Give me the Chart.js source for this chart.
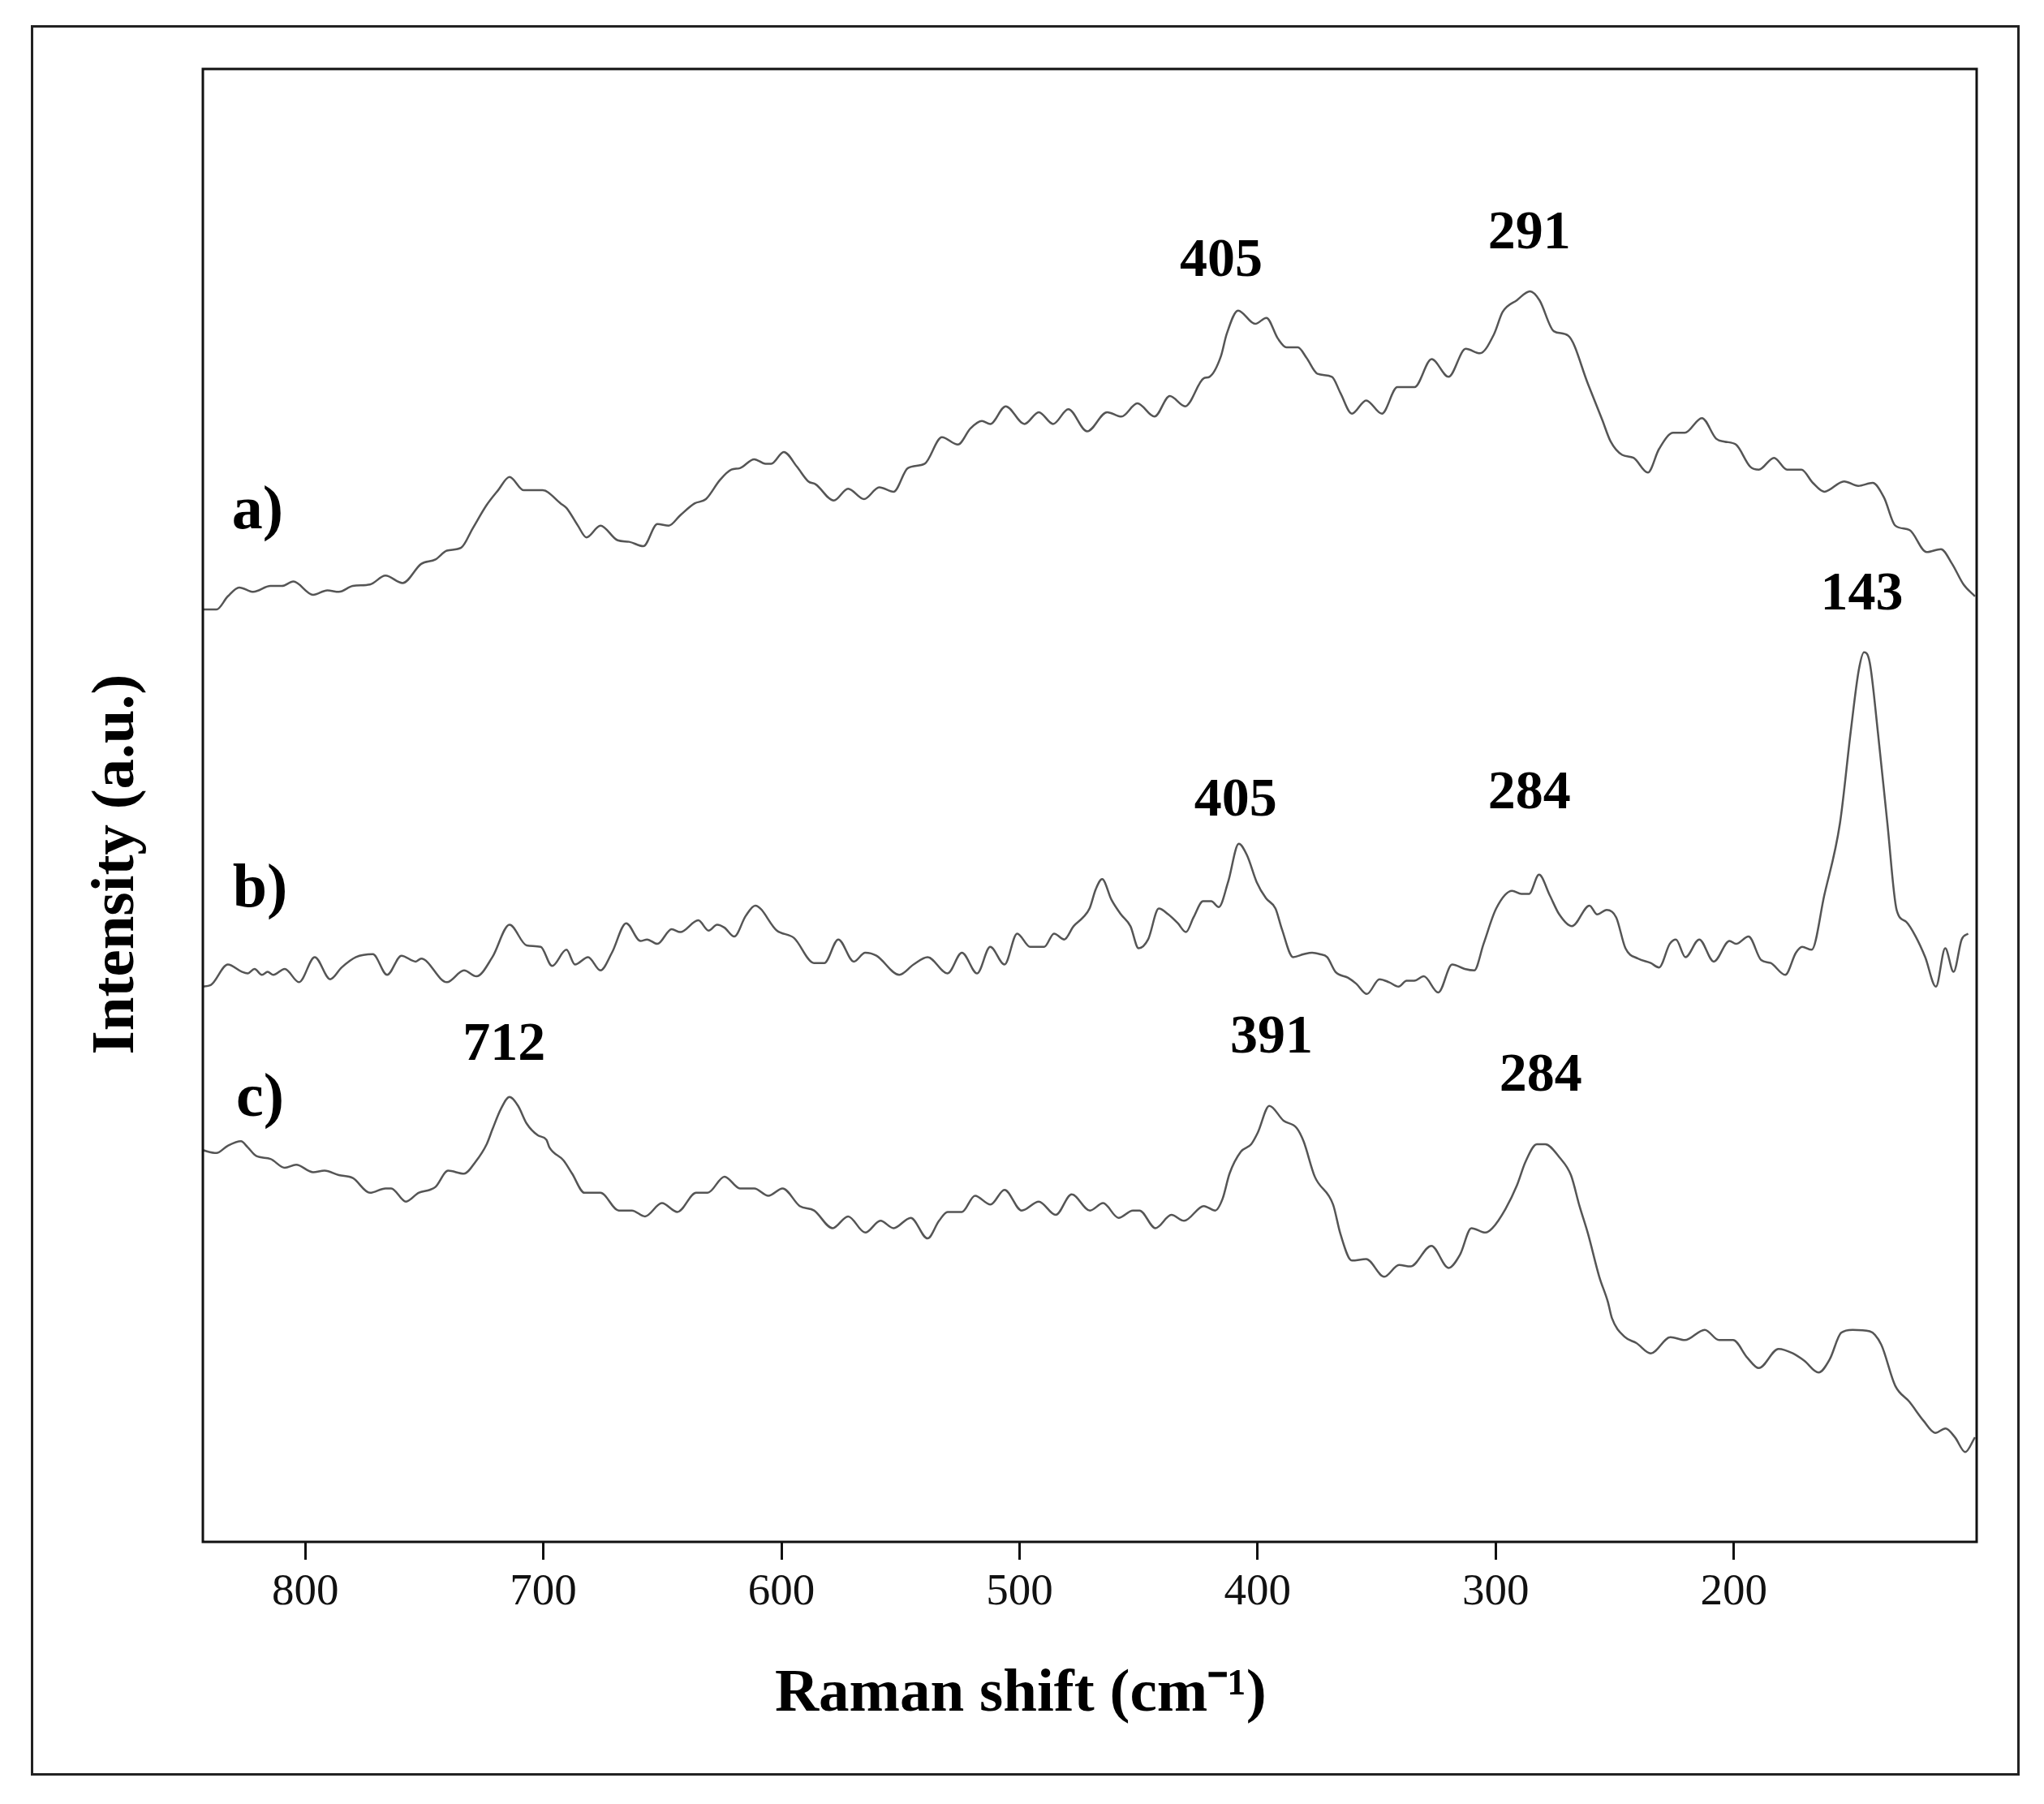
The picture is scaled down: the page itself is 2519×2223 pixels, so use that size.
<!DOCTYPE html>
<html>
<head>
<meta charset="utf-8">
<script src="https://cdn.jsdelivr.net/npm/chart.js@4.4.1/dist/chart.umd.min.js"></script>
<style>
  html, body { margin: 0; padding: 0; background: #fff; }
  #wrap { position: relative; width: 2519px; height: 2223px; background: #fff; }
  #frame { position: absolute; left: 38px; top: 31px; width: 2451px; height: 2157px;
           border: 3px solid #222; box-sizing: border-box; pointer-events: none; }
  canvas { position: absolute; left: 0; top: 0; }
</style>
</head>
<body>
<div id="wrap">
  <canvas id="c" width="2519" height="2223"></canvas>
  <div id="frame"></div>
</div>
<script>
// ---------- data ----------
const tickValues = [800, 700, 600, 500, 400, 300, 200];

const waveA = [843.3,837.3,832.5,827.7,821.8,814.6,809.8,805.0,796.7,790.7,785.9,780.0,772.8,766.3,759.1,751.3,745.3,740.5,734.5,729.7,723.8,719.0,714.2,708.2,700.3,692.7,690.3,685.5,681.9,676.0,668.8,664.0,658.0,652.1,647.3,642.5,636.5,631.7,625.8,621.0,617.4,611.4,606.7,604.3,599.0,593.5,588.7,585.6,578.0,572.0,565.3,558.9,552.9,546.9,539.8,532.6,525.9,520.6,515.8,512.3,505.8,497.9,491.9,485.9,479.5,471.6,
  463.2,457.2,450.5,443.3,436.9,430.4,422.6,420.2,415.4,413.0,408.2,401.0,396.3,391.5,387.9,383.1,379.5,374.8,368.8,365.2,360.4,354.4,347.8,341.3,334.1,326.9,319.8,312.6,306.6,300.7,297.1,291.1,285.6,281.6,275.6,269.6,261.2,255.3,251.7,246.9,242.1,236.1,231.4,225.4,220.6,213.4,207.4,203.9,199.1,193.1,189.5,183.1,177.6,171.6,166.8,162.0,153.7,147.7,141.7,136.9,132.2,126.2,119.0,113.0,108.3,103.5,98.7];
const intA = [63.3,63.3,64.2,64.8,64.5,64.9,64.9,65.2,64.3,64.6,64.5,64.9,65.0,65.6,65.1,66.4,66.7,67.3,67.5,68.8,70.4,71.4,72.3,71.4,71.4,70.5,70.2,69.0,68.2,69.0,68.0,67.9,67.6,69.1,69.0,69.7,70.5,70.8,72.1,72.8,72.9,73.5,73.2,73.2,74.0,73.0,72.0,71.8,70.7,71.5,70.8,71.6,71.3,72.9,73.2,75.0,74.5,75.6,76.1,75.9,77.1,75.9,76.7,75.9,76.9,75.4,
  76.7,76.4,77.3,76.4,77.8,77.1,79.0,79.1,80.5,82.0,83.6,82.7,83.1,81.7,81.1,81.1,80.4,79.3,79.1,78.0,76.6,77.5,76.6,78.4,78.4,80.3,79.1,81.0,80.7,82.0,83.5,84.3,84.9,84.3,82.2,81.9,78.6,76.2,74.7,73.8,73.6,72.6,74.2,75.3,75.3,76.3,74.9,74.7,74.5,73.0,72.8,73.6,72.8,72.8,71.9,71.3,72.0,71.7,71.9,70.9,69.0,68.7,67.2,67.4,66.4,65.0,64.2];

const waveB = [843.3,839.7,832.5,826.5,824.1,821.3,818.2,815.8,813.4,808.6,802.6,796.0,789.5,784.7,778.7,771.6,765.6,759.6,753.6,751.3,740.5,733.3,728.1,721.4,714.2,707.0,701.1,696.3,690.3,686.7,681.2,676.0,671.2,665.2,659.2,656.4,652.1,646.1,642.5,634.9,630.6,627.0,623.9,619.8,615.0,611.0,601.9,594.7,586.3,582.0,576.1,569.6,564.8,560.1,550.5,544.5,538.6,530.2,524.2,517.8,512.3,506.3,501.0,495.5,489.6,485.5,
  481.2,477.3,473.3,470.6,468.0,465.3,461.4,457.4,453.4,450.0,446.0,441.5,437.5,433.5,430.1,426.9,422.9,419.5,416.3,412.4,407.9,404.4,400.4,396.5,392.5,389.8,385.1,380.6,377.1,373.9,370.8,367.3,362.0,358.6,354.1,348.8,344.8,340.8,337.4,334.2,330.2,324.1,318.3,313.0,309.0,305.1,299.8,293.1,289.2,286.0,281.8,277.3,273.3,268.0,260.6,257.4,253.4,249.4,245.5,240.2,234.9,231.4,226.9,224.3,220.3,214.5,208.4,201.8,199.1,193.8,188.5,184.5,178.4,173.9,171.3,167.3,162.0,155.4,150.9,147.5,145.3,142.9,139.5,135.5,131.6,127.6,123.6,119.6,115.1,111.2,107.7,104.3,101.6];
const intB = [37.7,37.8,39.2,38.7,38.6,38.9,38.5,38.7,38.5,38.9,38.0,39.7,38.2,39.0,39.7,39.9,38.5,39.8,39.4,39.6,38.0,38.8,38.4,39.7,41.9,40.5,40.4,39.1,40.2,39.2,39.7,38.8,40.0,42.0,40.8,40.9,40.6,41.6,41.4,42.2,41.5,41.9,41.7,41.1,42.5,43.2,41.5,41.0,39.3,39.3,40.9,39.4,40.0,39.8,38.5,39.2,39.7,38.6,40.0,38.6,40.4,39.2,41.3,40.4,40.4,41.3,
  40.9,41.8,42.4,43.0,44.3,45.0,43.6,42.6,41.8,40.3,40.9,43.0,42.6,42.0,41.4,42.4,43.5,43.5,43.1,44.8,47.4,46.6,44.8,43.7,43.0,41.6,39.7,39.9,40.0,39.9,39.7,38.7,38.3,37.9,37.2,38.2,38.0,37.7,38.1,38.1,38.4,37.3,39.2,38.9,38.8,40.6,43.0,44.2,44.0,44.0,45.3,43.9,42.6,41.8,43.2,42.6,42.9,42.4,40.3,39.6,39.3,39.0,40.6,40.9,39.7,40.9,39.4,40.8,40.6,41.1,39.5,39.3,38.5,40.0,40.4,40.2,43.9,48.8,55.0,59.2,60.4,59.7,55.0,48.8,42.9,42.1,41.1,39.7,37.7,40.3,38.7,40.9,41.3];

const waveC = [843.3,837.3,832.5,827.0,824.2,820.6,814.6,808.6,803.8,796.7,791.9,785.9,780.0,772.8,766.3,763.9,757.7,752.4,747.7,745.3,740.0,733.3,728.5,723.8,721.4,717.8,714.2,710.6,707.0,702.3,698.7,697.5,691.5,687.9,682.7,676.0,668.3,662.8,657.3,650.2,643.7,635.8,631.0,623.9,617.4,611.4,605.5,599.5,592.3,586.3,578.5,572.0,564.8,558.4,552.9,545.7,538.6,533.8,530.2,524.2,518.7,512.2,506.3,499.1,491.9,484.8,478.1,470.4,
  464.9,458.4,452.4,449.6,442.9,436.2,430.9,422.6,417.8,414.7,411.8,407.0,402.7,399.9,395.1,389.1,383.6,380.7,376.0,368.3,365.2,360.4,354.4,346.8,340.6,335.8,327.0,319.8,315.0,310.2,304.3,301.4,295.9,291.1,287.5,282.7,279.2,273.2,268.4,264.8,261.2,256.5,252.9,251.2,245.7,240.9,234.9,226.6,220.6,212.2,206.2,200.3,194.3,189.5,181.2,175.2,170.4,164.4,159.7,154.9,150.1,142.9,138.1,132.2,126.2,120.2,115.4,111.1,107.1,102.8,98.7];
const intC = [26.6,26.4,26.9,27.2,26.8,26.2,26.0,25.4,25.6,25.1,25.2,24.9,24.7,23.7,24.0,24.0,23.1,23.7,23.9,24.1,25.2,25.0,25.8,27.0,28.0,29.4,30.2,29.6,28.4,27.6,27.3,26.8,25.9,25.0,23.7,23.7,22.5,22.5,22.1,23.0,22.4,23.7,23.7,24.8,24.0,24.0,23.5,24.0,22.8,22.5,21.3,22.1,21.0,21.8,21.3,22.0,20.6,21.8,22.4,22.4,23.5,22.9,23.9,22.5,23.1,22.2,23.6,22.5,
  23.0,22.0,22.5,22.5,21.3,22.2,21.8,22.8,22.5,23.3,25.0,26.5,27.0,27.8,29.6,28.6,28.1,27.2,24.8,22.9,20.9,19.1,19.2,18.0,18.8,18.7,20.1,18.6,19.5,21.3,21.0,21.3,22.6,24.2,25.8,27.0,27.0,26.1,24.9,22.8,20.9,18.0,16.3,15.2,13.9,13.5,12.8,13.9,13.7,14.4,13.7,13.7,12.5,11.8,13.1,12.8,12.3,11.5,12.4,14.2,14.4,14.3,13.4,10.6,9.5,8.2,7.4,7.7,7.1,6.1,7.1];

// series labels and peak labels (text + anchor in data units)
const seriesNames  = ['a)', 'b)', 'c)'];
const seriesNameX  = [820, 819, 819];
const seriesNameY  = [69.9, 44.2, 30.0];

const peakTexts = ['405', '291', '143', '405', '284', '712', '391', '284'];
const peakX     = [415.3, 285.9, 146.2, 409.2, 285.9, 716.5, 394.2, 281.1];
const peakY     = [86.9, 88.8, 64.3, 50.3, 50.8, 33.7, 34.2, 31.6];

const xTitle = 'Raman shift (cm\u207B\u00B9)';
const yTitle = 'Intensity (a.u.)';

// ---------- chart ----------
const FONT = '"Liberation Serif", "Times New Roman", serif';
function pairs(xs, ys) {
  const n = Math.min(xs.length, ys.length);
  const out = [];
  for (let i = 0; i < n; i++) out.push({ x: xs[i], y: ys[i] });
  return out;
}
const lineStyle = { borderColor: '#555555', borderWidth: 2.5, pointRadius: 0,
                    cubicInterpolationMode: 'monotone', fill: false };

const annotPlugin = {
  id: 'annot',
  afterDraw(chart) {
    const { ctx, chartArea: a, scales: { x, y } } = chart;
    ctx.save();
    // plot frame
    ctx.strokeStyle = '#111';
    ctx.lineWidth = 3;
    ctx.strokeRect(a.left, a.top, a.right - a.left, a.bottom - a.top);
    ctx.fillStyle = '#000';
    ctx.textAlign = 'center';
    ctx.textBaseline = 'middle';
    // axis titles (placed as in the original figure, slightly off-centre)
    ctx.font = 'bold 75px ' + FONT;
    ctx.fillText(xTitle, a.left + (a.right - a.left) * 0.461, a.bottom + 189);
    ctx.save();
    ctx.translate(a.left - 105, a.top + (a.bottom - a.top) * 0.540);
    ctx.rotate(-Math.PI / 2);
    ctx.fillText(yTitle, 0, 0);
    ctx.restore();
    // series labels
    ctx.font = 'bold 76px ' + FONT;
    seriesNames.forEach((t, i) => {
      ctx.fillText(t, x.getPixelForValue(seriesNameX[i]), y.getPixelForValue(seriesNameY[i]));
    });
    // peak labels
    ctx.font = 'bold 68px ' + FONT;
    peakTexts.forEach((t, i) => {
      ctx.fillText(t, x.getPixelForValue(peakX[i]), y.getPixelForValue(peakY[i]));
    });
    ctx.restore();
  }
};

new Chart(document.getElementById('c'), {
  type: 'line',
  data: {
    datasets: [
      Object.assign({ label: 'a)', data: pairs(waveA, intA) }, lineStyle),
      Object.assign({ label: 'b)', data: pairs(waveB, intB) }, lineStyle),
      Object.assign({ label: 'c)', data: pairs(waveC, intC) }, lineStyle)
    ]
  },
  options: {
    responsive: false,
    devicePixelRatio: 1,
    animation: false,
    parsing: false,
    layout: { padding: { left: 0, top: 85, right: 83, bottom: 0 } },
    plugins: { legend: { display: false }, tooltip: { enabled: false } },
    scales: {
      x: {
        type: 'linear',
        reverse: true,
        min: 98,
        max: 843,
        afterBuildTicks: (s) => { s.ticks = tickValues.map(v => ({ value: v })); },
        afterFit: (s) => { s.height = 323; },
        grid: { display: true, drawOnChartArea: false, drawTicks: true, tickLength: 22, color: '#111', lineWidth: 3 },
        border: { display: false },
        ticks: { color: '#111', font: { family: FONT, size: 55 }, padding: 8, maxRotation: 0, autoSkip: false },
        title: { display: false, text: xTitle }
      },
      y: {
        type: 'linear',
        min: 0,
        max: 100,
        afterFit: (s) => { s.width = 250; },
        grid: { display: false },
        border: { display: false },
        ticks: { display: false },
        title: { display: false, text: yTitle }
      }
    }
  },
  plugins: [annotPlugin]
});
</script>
</body>
</html>
